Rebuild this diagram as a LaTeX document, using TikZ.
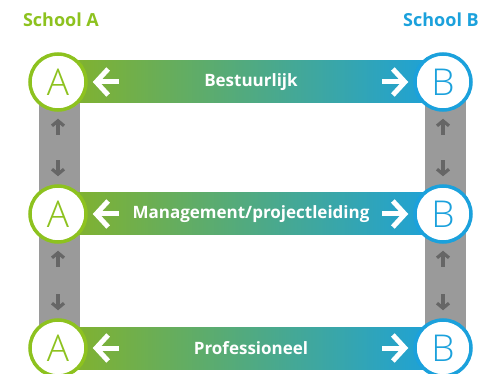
\documentclass[tikz,border=0pt]{standalone}
\usepackage{fontspec}
\setmainfont{Open Sans}
\newfontfamily\lightfont{Open Sans Light}
\usetikzlibrary{arrows.meta,backgrounds,calc}
\definecolor{schoolgreen}{HTML}{8DC21F}
\definecolor{schoolblue}{HTML}{1BA1DC}
\definecolor{pillar}{HTML}{9A9A9A}
\definecolor{pillararrow}{HTML}{666666}
\tikzset{
  school/.style={draw, circle, fill=white, line width=3.5pt, minimum size=56pt, inner sep=0pt, font=\lightfont\fontsize{37}{37}\selectfont},
  title/.style={font=\bfseries\fontsize{18}{18}\selectfont},
  level/.style={text=white, font=\bfseries\fontsize{17}{17}\selectfont},
  flow/.style={draw=white, line width=5pt, -{Straight Barb[length=12pt,width=26pt]}},
  step arrow/.style={draw=pillararrow, line width=3.2pt, -{Straight Barb[length=5pt,width=12pt]}}
}
\begin{document}
\begin{tikzpicture}[x=1pt, y=-1pt]
  \useasboundingbox (0,0) rectangle (482,374);
  \node[title, text=schoolgreen] (titleA) at (61,20) {School A};
  \node[title, text=schoolblue] (titleB) at (441,20) {School B};
  % three levels
  \foreach \r/\y/\txt in {1/82/Bestuurlijk, 2/214/{Management/projectleiding}, 3/348/Professioneel}{
    \node[school, draw=schoolgreen, text=schoolgreen] (a\r) at (58,\y) {A};
    \node[school, draw=schoolblue, text=schoolblue] (b\r) at (443,\y) {B};
    \node[level] (level\r) at (251,\y) {\txt};
    \draw[flow] ($(a\r.east)+(31,0)$) -- ($(a\r.east)+(5,0)$);
    \draw[flow] ($(b\r.west)+(-31,0)$) -- ($(b\r.west)+(-5,0)$);
  }
  % arrows on the pillars
  \foreach \s/\t in {1/2, 2/3}{
    \draw[step arrow] ($(a\s.south)+(0,23)$) -- ($(a\s.south)+(0,7)$);
    \draw[step arrow] ($(a\t.north)+(0,-24)$) -- ($(a\t.north)+(0,-8)$);
    \draw[step arrow] ($(b\s.south)+(0,23)$) -- ($(b\s.south)+(0,7)$);
    \draw[step arrow] ($(b\t.north)+(0,-24)$) -- ($(b\t.north)+(0,-8)$);
  }
  \begin{pgfonlayer}{background}
    \fill[pillar] ($(a1.center)+(-19,0)$) rectangle ($(a3.center)+(22,0)$);
    \fill[pillar] ($(b1.center)+(-18,0)$) rectangle ($(b3.center)+(23,0)$);
    \foreach \r in {1,2,3}
      \shade[left color=schoolgreen!90!black!95, right color=schoolblue] ($(a\r.center)+(0,-21)$) rectangle ($(b\r.center)+(0,21)$);
  \end{pgfonlayer}
\end{tikzpicture}
\end{document}
